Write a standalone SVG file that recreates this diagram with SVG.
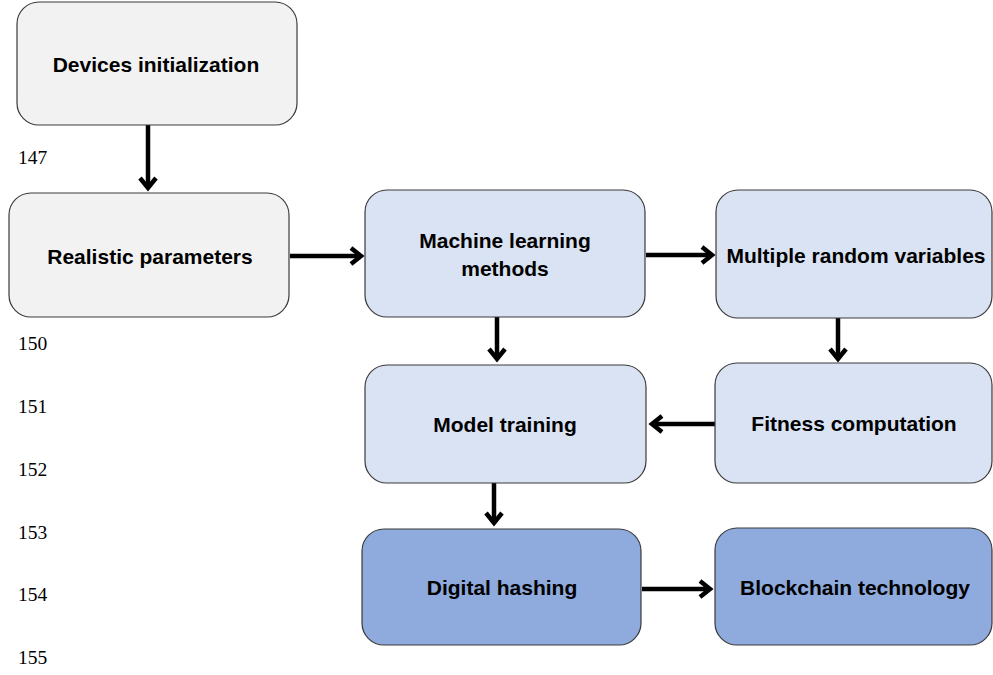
<svg xmlns="http://www.w3.org/2000/svg" width="993" height="675" viewBox="0 0 993 675">
<style>
.box{stroke:#3a3a3a;stroke-width:1.2}
.g{fill:#f2f2f2}
.lb{fill:#dae3f3}
.db{fill:#8faadc}
.t{font-family:"Liberation Sans",Arial,sans-serif;font-weight:bold;font-size:21px;fill:#000;text-anchor:middle}
.n{font-family:"Liberation Serif","Times New Roman",serif;font-size:19.5px;fill:#000}
.c{stroke:#000;stroke-width:4.5;fill:none}
</style>
<defs>
<marker id="ah" viewBox="0 0 12 12" refX="10" refY="6" markerWidth="12" markerHeight="12" markerUnits="userSpaceOnUse" orient="auto" overflow="visible">
<path d="M0,-2 L10,6 L0,14" fill="none" stroke="#000" stroke-width="4.5" stroke-linejoin="miter"/>
</marker>
</defs>
<rect width="993" height="675" fill="#fff"/>
<g id="linenumbers">
<text class="n" x="18" y="164">147</text>
<text class="n" x="18" y="350">150</text>
<text class="n" x="18" y="413">151</text>
<text class="n" x="18" y="476">152</text>
<text class="n" x="18" y="539">153</text>
<text class="n" x="18" y="601">154</text>
<text class="n" x="18" y="664">155</text>
</g>
<g id="connectors">
<line class="c" x1="148" y1="125" x2="148" y2="188" marker-end="url(#ah)"/>
<line class="c" x1="290" y1="256" x2="361" y2="256" marker-end="url(#ah)"/>
<line class="c" x1="646" y1="255" x2="712" y2="255" marker-end="url(#ah)"/>
<line class="c" x1="497" y1="317" x2="497" y2="359" marker-end="url(#ah)"/>
<line class="c" x1="838" y1="318" x2="838" y2="359" marker-end="url(#ah)"/>
<line class="c" x1="715" y1="424" x2="652" y2="424" marker-end="url(#ah)"/>
<line class="c" x1="494" y1="483" x2="494" y2="523" marker-end="url(#ah)"/>
<line class="c" x1="642" y1="589" x2="710" y2="589" marker-end="url(#ah)"/>
</g>
<g id="n-devices">
<rect class="box g" x="17" y="2" width="280" height="123" rx="22"/>
<text class="t" x="156" y="72">Devices initialization</text>
</g>
<g id="n-realistic">
<rect class="box g" x="9" y="193" width="280" height="124" rx="22"/>
<text class="t" x="150" y="264">Realistic parameters</text>
</g>
<g id="n-ml">
<rect class="box lb" x="365" y="190" width="280" height="127" rx="22"/>
<text class="t" x="505" y="248">Machine learning</text>
<text class="t" x="505" y="276">methods</text>
</g>
<g id="n-multiple">
<rect class="box lb" x="716" y="190" width="276" height="128" rx="22"/>
<text class="t" x="856" y="263">Multiple random variables</text>
</g>
<g id="n-model">
<rect class="box lb" x="365" y="365" width="281" height="118" rx="22"/>
<text class="t" x="505" y="432">Model training</text>
</g>
<g id="n-fitness">
<rect class="box lb" x="715" y="363" width="277" height="120" rx="22"/>
<text class="t" x="854" y="431">Fitness computation</text>
</g>
<g id="n-digital">
<rect class="box db" x="362" y="529" width="279" height="116" rx="22"/>
<text class="t" x="502" y="595">Digital hashing</text>
</g>
<g id="n-blockchain">
<rect class="box db" x="715" y="528" width="277" height="117" rx="22"/>
<text class="t" x="855" y="595">Blockchain technology</text>
</g>
</svg>
